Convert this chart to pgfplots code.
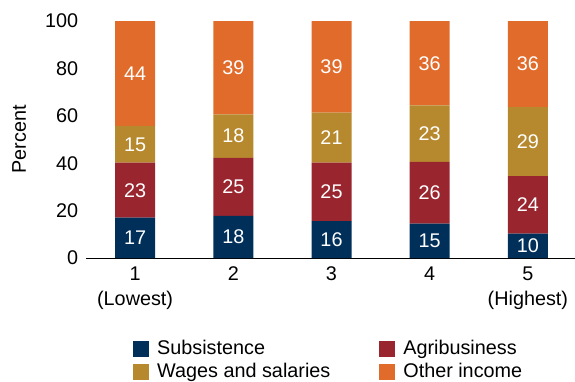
\documentclass[border=0pt]{standalone}
\usepackage{pgfplots}
\usepackage{pgfplotstable}
\pgfplotsset{compat=1.18}
\usepackage{fontspec}
\setmainfont{Liberation Sans}
\definecolor{cnavy}{HTML}{00305A}
\definecolor{cred}{HTML}{99252F}
\definecolor{cgold}{HTML}{B7892E}
\definecolor{corange}{HTML}{E16B2B}
% x: quintile index; s,a,w,o: shares (percent); *l: printed labels
\pgfplotstableread{
x  s     a     w     o     sl al wl ol
0  17.0  23.2  15.5  44.3  17 23 15 44
1  17.8  24.5  18.3  39.4  18 25 18 39
2  15.6  24.6  21.1  38.7  16 25 21 39
3  14.5  26.1  23.8  35.6  15 26 23 36
4  10.3  24.3  29.1  36.3  10 24 29 36
}\data
\begin{document}
\fontsize{19.8}{25}\selectfont
\begin{tikzpicture}
\useasboundingbox (0,0) rectangle (575pt,-381pt);
\begin{axis}[
  at={(86pt,-258pt)}, anchor=south west,
  scale only axis, width=491pt, height=237pt,
  ybar stacked, bar width=40pt,
  xmin=-0.5, xmax=4.5, ymin=0, ymax=100,
  xtick={0,1,2,3,4},
  xticklabels={{1\\(Lowest)},2,3,4,{5\\(Highest)}},
  xticklabel style={align=center, yshift=-2pt},
  yticklabel style={xshift=-1pt},
  ytick={0,20,40,60,80,100},
  /pgf/number format/assume math mode=true,
  major tick length=0pt,
  axis line style={draw=none},
  ylabel={Percent},
  every axis y label/.style={at={(axis description cs:-0.136,0.5)}, rotate=90, anchor=center},
  legend columns=2,
  legend style={draw=none, fill=none, at={(axis description cs:0.0896,-0.33)}, anchor=north west,
    row sep=1.5pt,
    /tikz/every even column/.append style={column sep=47pt}},
  legend cell align=left,
  legend image code/.code={\fill[#1] (0pt,-8pt) rectangle (16pt,8pt); \path (22pt,0pt);},
]
\addplot[fill=cnavy, draw=none] table[x=x, y=s] {\data};
\addplot[fill=cred, draw=none] table[x=x, y=a] {\data};
\addplot[fill=cgold, draw=none] table[x=x, y=w] {\data};
\addplot[fill=corange, draw=none] table[x=x, y=o] {\data};
\legend{Subsistence, Agribusiness, Wages and salaries, Other income}
\draw[black, line width=0.9pt] (rel axis cs:0,0) -- (rel axis cs:1,0);
\end{axis}
\begin{axis}[
  at={(86pt,-258pt)}, anchor=south west,
  scale only axis, width=491pt, height=237pt,
  xmin=-0.5, xmax=4.5, ymin=0, ymax=100,
  hide axis,
  nodes near coords,
  point meta=explicit symbolic,
  every node near coord/.style={white, anchor=center},
]
\addplot[draw=none, mark=none] table[x=x, y expr=\thisrow{s}/2, meta=sl] {\data};
\addplot[draw=none, mark=none] table[x=x, y expr=\thisrow{s}+\thisrow{a}/2, meta=al] {\data};
\addplot[draw=none, mark=none] table[x=x, y expr=\thisrow{s}+\thisrow{a}+\thisrow{w}/2, meta=wl] {\data};
\addplot[draw=none, mark=none] table[x=x, y expr=\thisrow{s}+\thisrow{a}+\thisrow{w}+\thisrow{o}/2, meta=ol] {\data};
\end{axis}
\end{tikzpicture}
\end{document}
